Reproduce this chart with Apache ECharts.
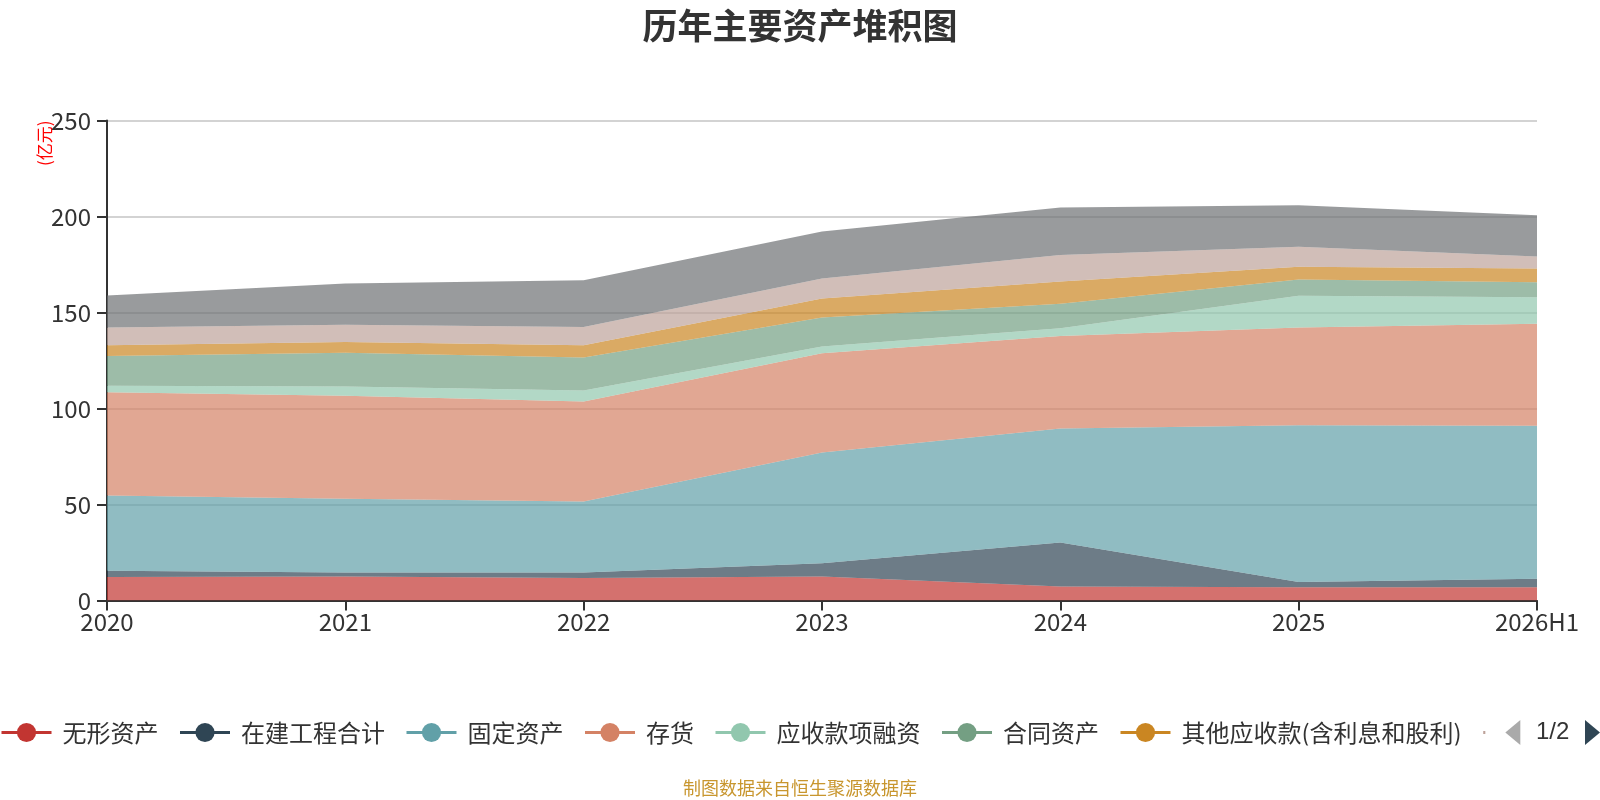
<!DOCTYPE html>
<html>
<head>
<meta charset="utf-8">
<script src="https://cdn.jsdelivr.net/npm/echarts@6/dist/echarts.min.js"></script>
<style>
html,body{margin:0;padding:0;background:#fff;}
#main{width:1600px;height:800px;}
</style>
</head>
<body>
<div id="main"></div>
<script>
var categories = ['2020', '2021', '2022', '2023', '2024', '2025', '2026H1'];

var seriesNames = ['无形资产', '在建工程合计', '固定资产', '存货', '应收款项融资', '合同资产', '其他应收款(含利息和股利)', '应收账款', '货币资金'];

var intangibleAssets   = [12.2, 12.5, 11.7, 12.5, 7.3, 6.9, 6.9];
var constructionInProg = [3.3, 2.1, 2.9, 6.9, 22.9, 2.8, 4.4];
var fixedAssets        = [39.2, 38.4, 37.0, 57.7, 59.4, 81.6, 79.7];
var inventory          = [53.8, 53.6, 52.0, 51.7, 48.2, 50.9, 53.1];
var receivablesFinance = [3.3, 4.9, 5.8, 3.5, 4.0, 16.5, 13.9];
var contractAssets     = [15.6, 17.5, 17.2, 15.1, 12.7, 8.5, 7.8];
var otherReceivables   = [5.6, 5.7, 6.4, 9.9, 11.6, 6.6, 7.1];
var accountsReceivable = [9.2, 8.9, 9.4, 10.4, 13.9, 10.4, 6.3];
var monetaryFunds      = [16.7, 21.5, 24.4, 24.5, 24.7, 21.7, 21.5];

var yTicks = [0, 50, 100, 150, 200, 250];

var seriesData = [intangibleAssets, constructionInProg, fixedAssets, inventory, receivablesFinance, contractAssets, otherReceivables, accountsReceivable, monetaryFunds];
var colors = ['#c23531', '#2f4554', '#61a0a8', '#d48265', '#91c7ae', '#749f83', '#ca8622', '#bda29a', '#6e7074'];

var chart = echarts.init(document.getElementById('main'));

var series = seriesNames.map(function (name, i) {
  return {
    name: name,
    type: 'line',
    stack: 'total',
    data: seriesData[i],
    symbol: 'circle',
    showSymbol: false,
    lineStyle: { width: 0 },
    areaStyle: { opacity: 0.7 },
    emphasis: { disabled: true }
  };
});

chart.setOption({
  animation: false,
  color: colors,
  title: {
    text: '历年主要资产堆积图',
    left: 'center',
    top: 3,
    textStyle: { fontSize: 35, fontWeight: 'bold', color: '#333', fontFamily: 'Noto Sans CJK SC' }
  },
  grid: { left: 107, right: 63, top: 120.5, bottom: 199.5, containLabel: false },
  xAxis: {
    type: 'category',
    data: categories,
    boundaryGap: false,
    axisLine: { lineStyle: { color: '#333', width: 2 } },
    axisTick: { show: true, length: 10, lineStyle: { color: '#333', width: 2 } },
    axisLabel: { fontSize: 24, color: '#333', margin: 9, fontFamily: 'Noto Sans CJK SC' },
    splitLine: { show: false }
  },
  yAxis: {
    type: 'value',
    min: yTicks[0],
    max: yTicks[yTicks.length - 1],
    interval: 50,
    name: '(亿元)',
    nameLocation: 'end',
    nameRotate: 90,
    nameGap: 0,
    nameMoveOverlap: false,
    nameTextStyle: { color: '#ff0000', fontSize: 17, align: 'right', verticalAlign: 'bottom', padding: [0, 0, 54, 0], fontFamily: 'Noto Sans CJK SC' },
    axisLine: { show: true, lineStyle: { color: '#333', width: 2 } },
    axisTick: { show: true, length: 10, lineStyle: { color: '#333', width: 2 } },
    axisLabel: { fontSize: 24, color: '#333', margin: 16, fontFamily: 'Noto Sans CJK SC' },
    splitLine: { show: true, lineStyle: { color: '#c4c4c4', width: 1.5 } }
  },
  legend: {
    type: 'scroll',
    left: 0,
    right: 0,
    top: 720,
    padding: 0,
    itemWidth: 50,
    itemHeight: 24,
    itemGap: 20,
    data: seriesNames,
    lineStyle: { width: 3 },
    textStyle: { fontSize: 24, color: '#333', fontFamily: 'Noto Sans CJK SC', padding: [0, 0, 0, 6] },
    pageIconColor: '#2f4554',
    pageIconInactiveColor: '#aaa',
    pageIconSize: [15, 26],
    pageTextStyle: { fontSize: 24, color: '#333' }
  },
  graphic: [{
    type: 'text',
    left: 'center',
    top: 779,
    style: { text: '制图数据来自恒生聚源数据库', fontSize: 18, fill: '#c8962e', fontFamily: 'Noto Sans CJK SC' }
  }],
  series: series
});
</script>
</body>
</html>
